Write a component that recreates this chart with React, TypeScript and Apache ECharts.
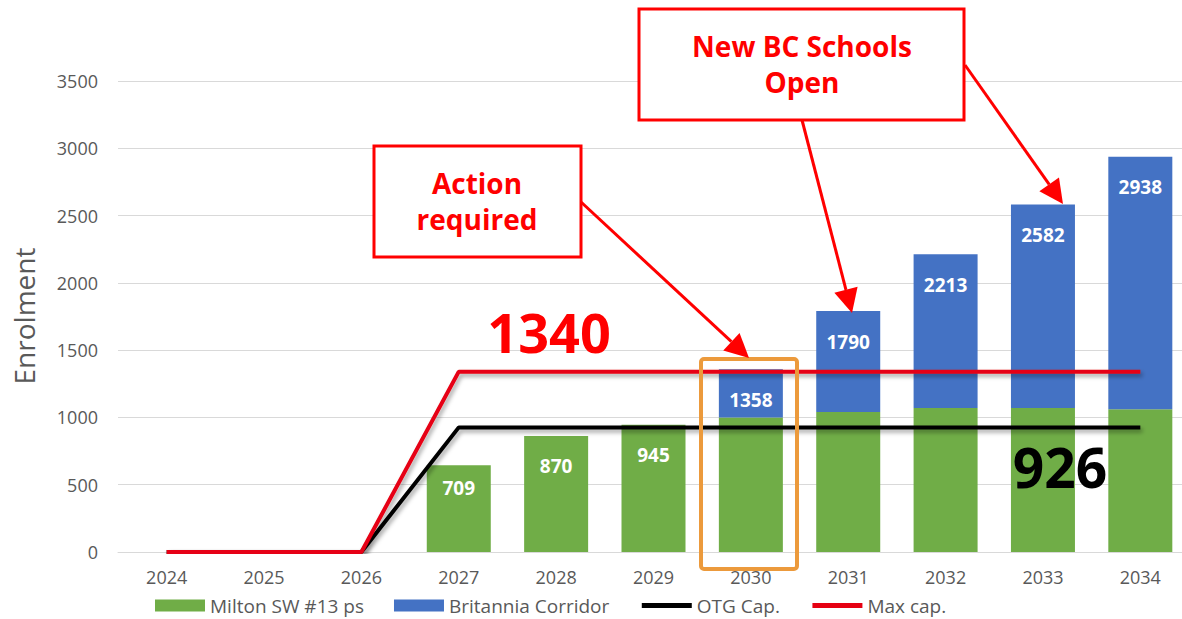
import React, { useEffect, useRef } from "react";
import * as echarts from "echarts";

const years = ["2024", "2025", "2026", "2027", "2028", "2029", "2030", "2031", "2032", "2033", "2034"];
const milton = [0, 0, 0, 645, 862, 945, 1000, 1040, 1070, 1070, 1060];
const britannia = [0, 0, 0, 0, 0, 0, 358, 750, 1143, 1512, 1878];
const totalLabels = [null, null, null, 709, 870, 945, 1358, 1790, 2213, 2582, 2938];
const otgCap = [0, 0, 0, 926, 926, 926, 926, 926, 926, 926, 926];
const maxCap = [0, 0, 0, 1340, 1340, 1340, 1340, 1340, 1340, 1340, 1340];
const seriesNames = ["Milton SW #13 ps", "Britannia Corridor", "OTG Cap.", "Max cap."];

const FONT = "'Open Sans', 'Noto Sans', sans-serif";
const RED = "#FF0000";

function arrow(x1: number, y1: number, x2: number, y2: number, head = 24, half = 12) {
  const dx = x2 - x1, dy = y2 - y1;
  const len = Math.hypot(dx, dy);
  const ux = dx / len, uy = dy / len;
  const bx = x2 - ux * head, by = y2 - uy * head;
  const px = -uy, py = ux;
  return [
    { type: "line", z: 100, shape: { x1, y1, x2: bx, y2: by }, style: { stroke: RED, lineWidth: 3 } },
    {
      type: "polygon", z: 100,
      shape: { points: [[x2, y2], [bx + px * half, by + py * half], [bx - px * half, by - py * half]] },
      style: { fill: RED },
    },
  ];
}

export default function App() {
  const ref = useRef<HTMLDivElement>(null);
  useEffect(() => {
    if (!ref.current) return;
    const chart = echarts.init(ref.current, null, { renderer: "svg" });
    const labelBase = {
      show: true,
      position: "insideTop",
      color: "#fff",
      fontWeight: "bold",
      fontSize: 19,
      fontFamily: FONT,
    };
    const greenData = milton.map((v, i) => {
      const onGreen = britannia[i] === 0 && totalLabels[i] !== null;
      return {
        value: v,
        label: onGreen
          ? { ...labelBase, distance: i === 3 ? 13 : 21, formatter: String(totalLabels[i]) }
          : { show: false },
      };
    });
    const blueData = britannia.map((v, i) => {
      const onBlue = v > 0 && totalLabels[i] !== null;
      return {
        value: v,
        label: onBlue ? { ...labelBase, distance: 21, formatter: String(totalLabels[i]) } : { show: false },
      };
    });
    const lineShadow = {
      shadowColor: "rgba(0,0,0,0.35)",
      shadowBlur: 4,
      shadowOffsetX: 2,
      shadowOffsetY: 3,
    };
    const hiddenSymbol = { color: "rgba(0,0,0,0)", borderColor: "rgba(0,0,0,0)", borderWidth: 0 };
    const legendLine = { width: 5, shadowBlur: 0, shadowOffsetX: 0, shadowOffsetY: 0 };
    chart.setOption({
      animation: false,
      backgroundColor: "#fff",
      grid: { left: 118, right: 0, top: 81, bottom: 67, containLabel: false },
      xAxis: {
        type: "category",
        data: years,
        axisLine: { lineStyle: { color: "#D9D9D9", width: 1 } },
        axisTick: { show: false },
        axisLabel: { color: "#595959", fontSize: 18, fontFamily: FONT, margin: 16 },
      },
      yAxis: {
        type: "value",
        min: 0,
        max: 3500,
        interval: 500,
        axisLine: { show: false },
        axisTick: { show: false },
        splitLine: { lineStyle: { color: "#D9D9D9", width: 1 } },
        axisLabel: {
          color: "#595959",
          fontSize: 18,
          fontFamily: FONT,
          margin: 20,
          formatter: (v: number) => String(v),
        },
      },
      legend: {
        left: 150,
        top: 591,
        itemGap: 30,
        itemWidth: 50,
        itemHeight: 12,
        textStyle: { color: "#595959", fontSize: 19, fontFamily: FONT },
        data: [
          { name: seriesNames[0], icon: "rect" },
          { name: seriesNames[1], icon: "rect" },
          { name: seriesNames[2], itemStyle: hiddenSymbol, lineStyle: legendLine },
          { name: seriesNames[3], itemStyle: hiddenSymbol, lineStyle: legendLine },
        ],
      },
      series: [
        {
          name: seriesNames[0],
          type: "bar",
          stack: "enrol",
          barWidth: 64,
          itemStyle: { color: "#70AD47" },
          data: greenData,
        },
        {
          name: seriesNames[1],
          type: "bar",
          stack: "enrol",
          barWidth: 64,
          itemStyle: { color: "#4472C4" },
          data: blueData,
        },
        {
          name: seriesNames[2],
          type: "line",
          symbol: "none",
          showSymbol: false,
          itemStyle: { color: "#000" },
          lineStyle: { color: "#000", width: 4, ...lineShadow },
          data: otgCap,
          z: 5,
        },
        {
          name: seriesNames[3],
          type: "line",
          symbol: "none",
          showSymbol: false,
          itemStyle: { color: "#E60012" },
          lineStyle: { color: "#E60012", width: 4, ...lineShadow },
          data: maxCap,
          z: 6,
        },
      ],
      graphic: [
        {
          type: "text",
          x: 24,
          y: 316,
          rotation: Math.PI / 2,
          z: 100,
          style: {
            text: "Enrolment",
            fill: "#595959",
            font: `28px ${FONT}`,
            textAlign: "center",
            textVerticalAlign: "middle",
          },
        },
        {
          type: "rect",
          z: 100,
          shape: { x: 374, y: 146, width: 207, height: 111 },
          style: { fill: "#fff", stroke: RED, lineWidth: 3 },
        },
        {
          type: "text",
          z: 101,
          x: 477,
          y: 201,
          style: {
            text: "Action\nrequired",
            fill: RED,
            font: `bold 28px ${FONT}`,
            lineHeight: 36,
            textAlign: "center",
            textVerticalAlign: "middle",
          },
        },
        {
          type: "rect",
          z: 100,
          shape: { x: 639, y: 9, width: 325, height: 111 },
          style: { fill: "#fff", stroke: RED, lineWidth: 3 },
        },
        {
          type: "text",
          z: 101,
          x: 802,
          y: 64,
          style: {
            text: "New BC Schools\nOpen",
            fill: RED,
            font: `bold 28px ${FONT}`,
            lineHeight: 36,
            textAlign: "center",
            textVerticalAlign: "middle",
          },
        },
        ...arrow(581, 202, 749, 358),
        ...arrow(802, 120, 852, 313),
        ...arrow(965, 65, 1063, 204),
        {
          type: "rect",
          z: 99,
          shape: { x: 701, y: 359, width: 96, height: 210, r: 3 },
          style: { fill: "none", stroke: "#EC9A3C", lineWidth: 4 },
        },
        {
          type: "text",
          z: 101,
          x: 549,
          y: 332,
          style: {
            text: "1340",
            fill: RED,
            font: `bold 54px ${FONT}`,
            textAlign: "center",
            textVerticalAlign: "middle",
          },
        },
        {
          type: "text",
          z: 101,
          x: 1060,
          y: 466,
          style: {
            text: "926",
            fill: "#000",
            font: `bold 55px ${FONT}`,
            textAlign: "center",
            textVerticalAlign: "middle",
            shadowColor: "rgba(0,0,0,0.35)",
            shadowBlur: 4,
            shadowOffsetX: 2,
            shadowOffsetY: 2,
          },
        },
      ],
    });
    return () => chart.dispose();
  }, []);
  return (
    <div
      style={{
        position: "fixed",
        left: 0,
        top: 0,
        width: 1182,
        height: 619,
        overflow: "hidden",
        background: "#fff",
      }}
    >
      <div ref={ref} style={{ width: 1189, height: 619 }} />
    </div>
  );
}
